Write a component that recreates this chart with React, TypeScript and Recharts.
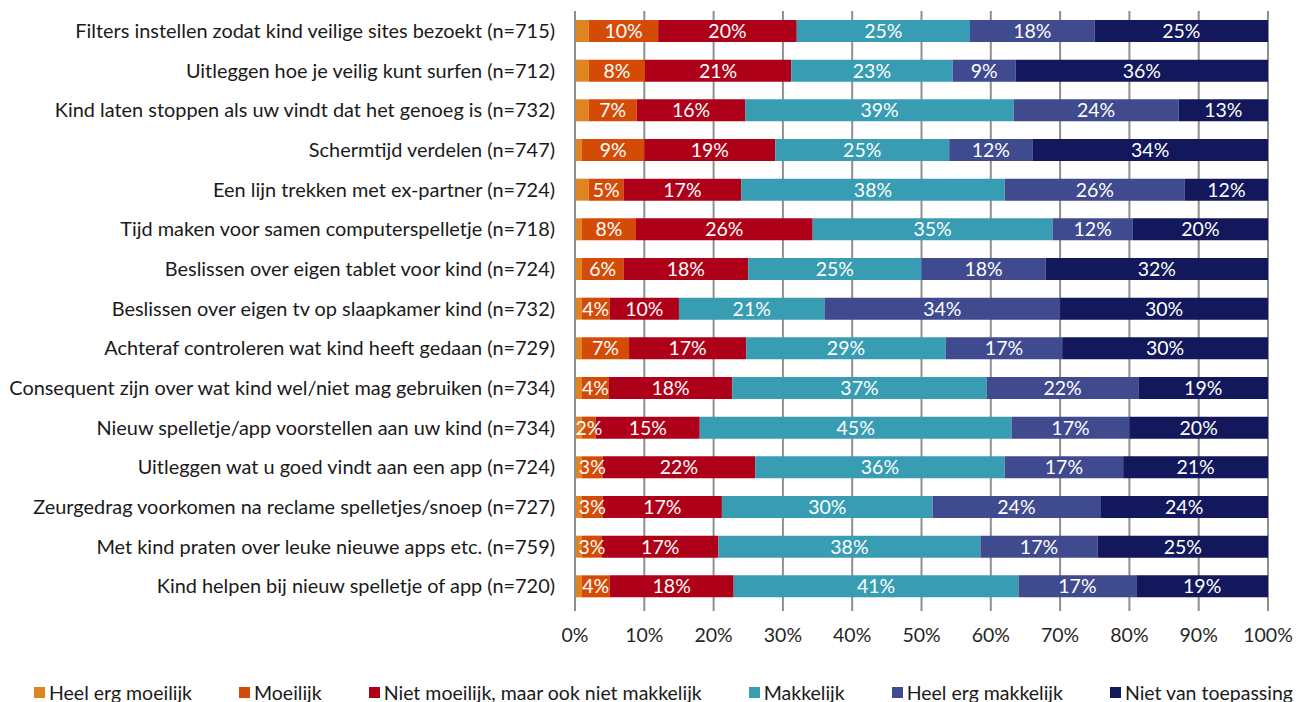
import { BarChart, Bar, XAxis, YAxis, CartesianGrid, LabelList } from "recharts";

const categories = [
  "Filters instellen zodat kind veilige sites bezoekt (n=715)",
  "Uitleggen hoe je veilig kunt surfen (n=712)",
  "Kind laten stoppen als uw vindt dat het genoeg is (n=732)",
  "Schermtijd verdelen (n=747)",
  "Een lijn trekken met ex-partner (n=724)",
  "Tijd maken voor samen computerspelletje (n=718)",
  "Beslissen over eigen tablet voor kind (n=724)",
  "Beslissen over eigen tv op slaapkamer kind (n=732)",
  "Achteraf controleren wat kind heeft gedaan (n=729)",
  "Consequent zijn over wat kind wel/niet mag gebruiken (n=734)",
  "Nieuw spelletje/app voorstellen aan uw kind (n=734)",
  "Uitleggen wat u goed vindt aan een app (n=724)",
  "Zeurgedrag voorkomen na reclame spelletjes/snoep (n=727)",
  "Met kind praten over leuke nieuwe apps etc. (n=759)",
  "Kind helpen bij nieuw spelletje of app (n=720)",
];

const heelErgMoeilijk = [2, 2, 2, 1, 2, 1, 1, 1, 1, 1, 1, 1, 1, 1, 1];
const moeilijk = [10, 8.1, 6.9, 9, 5, 7.8, 6, 4, 6.8, 3.9, 2, 3, 3, 2.9, 4];
const nietMoeilijk = [20, 21.1, 15.7, 18.9, 17, 25.5, 18, 10, 16.9, 17.8, 15, 22, 17.2, 16.8, 17.9];
const makkelijk = [25, 23.3, 38.7, 25.1, 38, 34.6, 25, 21, 28.8, 36.7, 45, 36, 30.4, 37.8, 41.1];
const heelErgMakkelijk = [18, 9.1, 23.8, 12, 26, 11.6, 17.9, 34, 16.8, 21.9, 17, 17.1, 24.2, 16.9, 17];
const nietVanToepassing = [25, 36.4, 12.9, 34, 12, 19.5, 32.1, 30, 29.7, 18.7, 20, 20.9, 24.2, 24.6, 19];

const xTicks = [0, 10, 20, 30, 40, 50, 60, 70, 80, 90, 100];

const series = [
  { key: "Heel erg moeilijk", values: heelErgMoeilijk, color: "#DE8522", label: false },
  { key: "Moeilijk", values: moeilijk, color: "#D44B08", label: true },
  { key: "Niet moeilijk, maar ook niet makkelijk", values: nietMoeilijk, color: "#AE0018", label: true },
  { key: "Makkelijk", values: makkelijk, color: "#389CB3", label: true },
  { key: "Heel erg makkelijk", values: heelErgMakkelijk, color: "#3F4A8F", label: true },
  { key: "Niet van toepassing", values: nietVanToepassing, color: "#12185B", label: true },
];

const FONT = "Lato, 'Open Sans', sans-serif";
const FS = 19.5;

const data = categories.map((name, i) => {
  const row: Record<string, string | number> = { name };
  series.forEach((s) => {
    row[s.key] = s.values[i];
  });
  return row;
});

function pctLabel(v: unknown): string {
  const n = Number(v);
  if (!n || n < 1.5) return "";
  return `${Math.round(n)}%`;
}

function ChartLegend() {
  return (
    <div
      style={{
        position: "absolute",
        left: 0,
        top: 680,
        width: 1307,
        height: 24,
        display: "flex",
        justifyContent: "center",
        alignItems: "center",
        gap: 47,
        paddingLeft: 20,
        boxSizing: "border-box",
        fontFamily: FONT,
        fontSize: FS,
        color: "#1a1a1a",
        whiteSpace: "nowrap",
      }}
    >
      {series.map((s) => (
        <div key={s.key} style={{ display: "flex", alignItems: "center", gap: 4 }}>
          <span style={{ display: "inline-block", width: 11, height: 11, backgroundColor: s.color }} />
          {s.key}
        </div>
      ))}
    </div>
  );
}

export default function App() {
  return (
    <div
      style={{
        position: "absolute",
        left: 0,
        top: 0,
        width: 1307,
        height: 702,
        background: "#fff",
        overflow: "hidden",
      }}
    >
      <BarChart
        width={1307}
        height={702}
        data={data}
        layout="vertical"
        margin={{ top: 11, right: 39, left: 0, bottom: 56 }}
        barSize={22}
      >
        <CartesianGrid horizontal={false} vertical stroke="#8f8f8f" strokeWidth={2} />
        <XAxis
          type="number"
          domain={[0, 100]}
          ticks={xTicks}
          interval={0}
          tickFormatter={(v: number) => `${v}%`}
          axisLine={false}
          tickLine={{ stroke: "#8f8f8f", strokeWidth: 2 }}
          tickSize={5}
          tickMargin={17}
          height={40}
          tick={{ fontSize: FS, fill: "#262626", fontFamily: FONT }}
        />
        <YAxis
          type="category"
          dataKey="name"
          width={575}
          axisLine={{ stroke: "#8f8f8f", strokeWidth: 2 }}
          tickLine={false}
          tickSize={0}
          tickMargin={20}
          interval={0}
          tick={{ fontSize: 19.9, fill: "#1a1a1a", fontFamily: FONT }}
        />
        {series.map((s) => (
          <Bar key={s.key} dataKey={s.key} stackId="a" fill={s.color} isAnimationActive={false}>
            {s.label && (
              <LabelList
                dataKey={s.key}
                position="center"
                formatter={pctLabel}
                fill="#ffffff"
                style={{ fontSize: FS, fontFamily: FONT }}
              />
            )}
          </Bar>
        ))}
      </BarChart>
      <ChartLegend />
    </div>
  );
}
